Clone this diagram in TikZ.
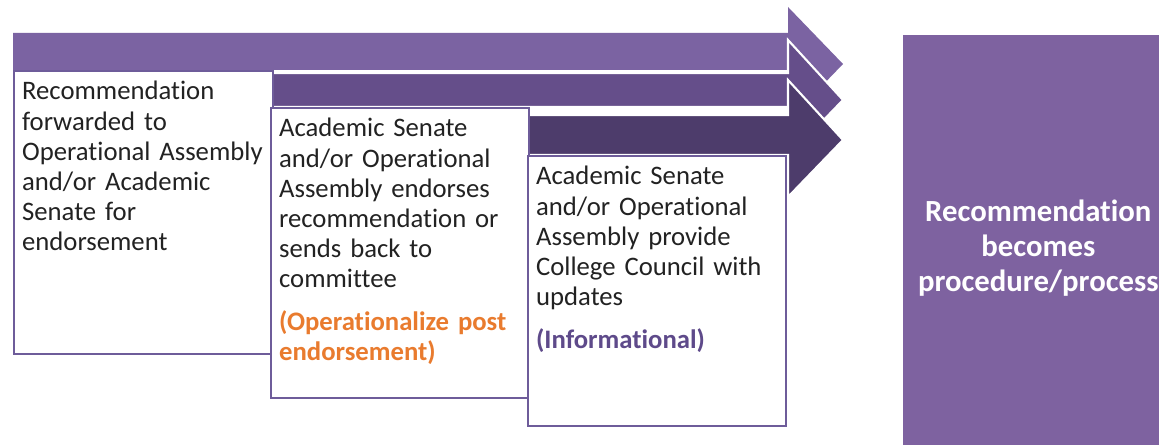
\documentclass[tikz,border=0pt]{standalone}
\usepackage{fontspec}
\setmainfont[RawFeature=-liga]{Carlito}
\definecolor{boxline}{HTML}{6E5C9A}
\definecolor{arrowA}{HTML}{7B63A2}
\definecolor{arrowB}{HTML}{654E8A}
\definecolor{arrowC}{HTML}{4D3C6B}
\definecolor{goalfill}{HTML}{7E62A0}
\definecolor{opnote}{HTML}{E97B2E}
\definecolor{infonote}{HTML}{5E4A8A}
\definecolor{bodytext}{HTML}{222222}

\begin{document}
\begin{tikzpicture}[x=0.02cm,y=-0.02cm,
  stepbox/.style={draw=boxline,line width=1.1pt,fill=white,anchor=north west,inner sep=0pt},
  steptext/.style={anchor=base west,align=left,text width=5cm,inner sep=0pt,text=bodytext,font=\fontsize{15.2}{17.2}\selectfont},
  goalbox/.style={fill=goalfill,anchor=north west,align=center,text=white,font=\fontsize{17.5}{20}\selectfont\bfseries},
  flow/.style={draw=white,line width=1.2pt,line join=miter}]
  \useasboundingbox (0,0) rectangle (1159,445);
  \clip (0,0) rectangle (1159,445);

  \fill [arrowA] (13,33) -- (788,33) -- (788,7) -- (843,64) -- (788,121) -- (788,70) -- (13,70) -- cycle;
  \filldraw [flow,fill=arrowB] (272,73) -- (788,73) -- (788,40) -- (843,100) -- (788,157) -- (788,107) -- (272,107) -- cycle;
  \filldraw [flow,fill=arrowC] (528,115) -- (788,115) -- (788,80) -- (843,140) -- (788,197) -- (788,155) -- (528,155) -- cycle;

  \node [stepbox,minimum width=5.18cm,minimum height=5.66cm] (box1) at (13,70) {};
  \node [stepbox,minimum width=5.16cm,minimum height=5.80cm] (box2) at (270,107) {};
  \node [stepbox,minimum width=5.16cm,minimum height=5.40cm] (box3) at (527,155) {};

  \node [steptext] (txt1) at ([shift={(5pt,-17pt)}]box1.north west)
    {Recommendation\\forwarded to\\Operational Assembly\\and/or Academic\\Senate for\\endorsement};
  \node [steptext] (txt2) at ([shift={(5pt,-17pt)}]box2.north west)
    {Academic Senate\\and/or Operational\\Assembly endorses\\recommendation or\\sends back to\\committee\\[7pt]
     \textcolor{opnote}{\textbf{(Operationalize post}}\\\textcolor{opnote}{\textbf{endorsement)}}};
  \node [steptext] (txt3) at ([shift={(5pt,-17pt)}]box3.north west)
    {Academic Senate\\and/or Operational\\Assembly provide\\College Council with\\updates\\[7pt]
     \textcolor{infonote}{\textbf{(Informational)}}};

  \node [goalbox,minimum width=5.4cm,minimum height=8.5cm] (goal) at (903,35)
    {Recommendation\\becomes\\procedure/process};
\end{tikzpicture}
\end{document}
